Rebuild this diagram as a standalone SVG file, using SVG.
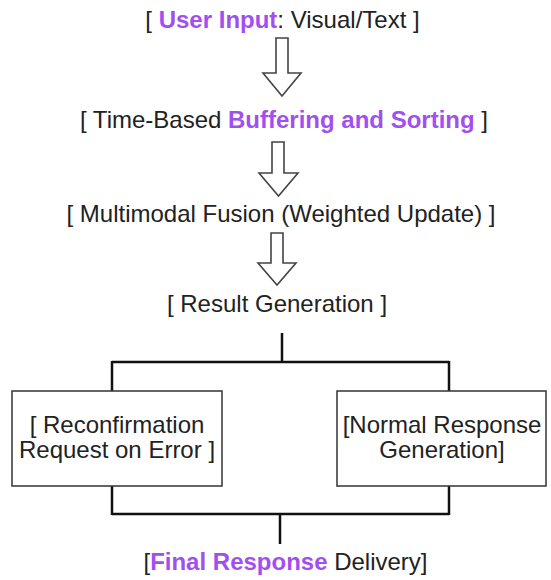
<svg xmlns="http://www.w3.org/2000/svg" width="551" height="580" viewBox="0 0 551 580">
<style>
  text { font-family: "Liberation Sans", Arial, sans-serif; font-size: 24px; fill: #222; text-anchor: middle; }
  .hl { fill: #a24ff0; font-weight: bold; }
  .arrow { fill: #fff; stroke: #444; stroke-width: 1.6; stroke-linejoin: miter; }
  .line { fill: none; stroke: #111; stroke-width: 2.5; }
  .box { fill: #fff; stroke: #333; stroke-width: 1.5; }
</style>
<rect width="551" height="580" fill="#fff"/>
<g id="connectors">
  <polygon class="arrow" points="276,38 288,38 288,73 301,73 282,96 263,73 276,73"/>
  <polygon class="arrow" points="272,142 284,142 284,173 298,173 278.5,196 259,173 272,173"/>
  <polygon class="arrow" points="271,233 283,233 283,263 296,263 277,285 258,263 271,263"/>
  <path class="line" d="M282,333 V362 M112,362 H449 M112,361 V391 M449,361 V391"/>
  <path class="line" d="M112,486 V515 M449,486 V515 M112,514 H449 M280,514 V544"/>
</g>
<g id="node-input">
  <text x="282.5" y="28">[ <tspan class="hl">User Input</tspan>: Visual/Text ]</text>
</g>
<g id="node-buffering">
  <text x="284" y="128">[ Time-Based <tspan class="hl">Buffering and Sorting</tspan> ]</text>
</g>
<g id="node-fusion">
  <text x="281" y="222">[ Multimodal Fusion (Weighted Update) ]</text>
</g>
<g id="node-result">
  <text x="277" y="312">[ Result Generation ]</text>
</g>
<g id="node-reconfirm">
  <rect class="box" x="12" y="391" width="210" height="95"/>
  <text x="117" y="433">[ Reconfirmation</text>
  <text x="117" y="458">Request on Error ]</text>
</g>
<g id="node-normal">
  <rect class="box" x="337" y="391" width="209" height="95"/>
  <text x="442" y="433">[Normal Response</text>
  <text x="442" y="458">Generation]</text>
</g>
<g id="node-final">
  <text x="285.5" y="570">[<tspan class="hl">Final Response</tspan> Delivery]</text>
</g>
</svg>
